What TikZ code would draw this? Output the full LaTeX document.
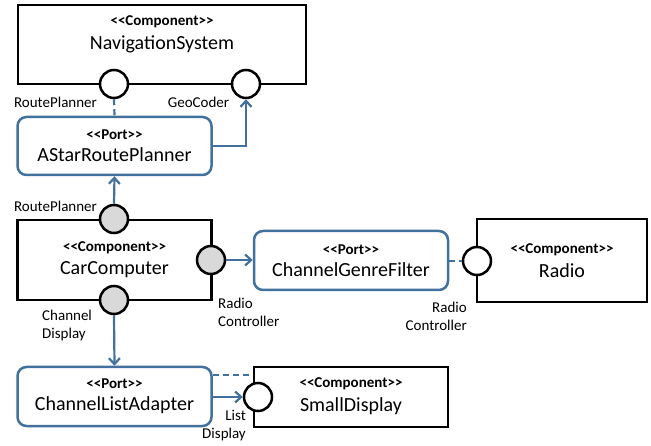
\documentclass[tikz,border=0pt]{standalone}
\usepackage{fontspec}
\setmainfont{Carlito}
\usetikzlibrary{arrows.meta}
\definecolor{portblue}{RGB}{65,113,156}
\definecolor{ifgray}{RGB}{217,217,217}
\newcommand{\stereo}[1]{{\fontsize{15}{18}\selectfont\bfseries <{}<#1>{}>}}
\newcommand{\bigname}[1]{{\fontsize{20}{22}\selectfont #1}}
\tikzset{
  comp/.style={draw=black, line width=2.5pt, fill=white, inner sep=0pt},
  portbox/.style={draw=portblue, line width=2.5pt, rounded corners=9pt, fill=white, inner sep=0pt},
  boxtext/.style={align=center, inner sep=0pt},
  iface/.style={circle, draw=black, line width=2.5pt, fill=white, minimum size=28pt, inner sep=0pt},
  reqface/.style={iface, fill=ifgray},
  lbl/.style={font=\fontsize{15}{18}\selectfont, inner sep=0pt},
  conn/.style={draw=portblue, line width=2.2pt, -{Straight Barb[length=6pt,width=11pt,line width=2.2pt]}},
  dconn/.style={draw=portblue, line width=2.2pt, dash pattern=on 6pt off 4pt},
}
\begin{document}
\begin{tikzpicture}[x=1pt,y=-1pt]
\useasboundingbox (0,0) rectangle (651,446);

% NavigationSystem
\node[comp, minimum width=288pt, minimum height=79pt] (nav) at (162,44.5) {};
\node[boxtext] (navt) at (162,34) {\stereo{Component}\\[7pt]\bigname{NavigationSystem}};
\node[iface] (navrp) at (114,84) {};
\node[iface] (navgc) at (246,84) {};
\node[lbl] (lrp1) at (55.5,102) {RoutePlanner};
\node[lbl] (lgc) at (198.5,102) {GeoCoder};

% AStarRoutePlanner
\node[portbox, minimum width=194pt, minimum height=58pt] (astar) at (114.5,146) {};
\node[boxtext] (astart) at (114.5,146) {\stereo{Port}\\[7pt]\bigname{AStarRoutePlanner}};

% CarComputer
\node[comp, minimum width=194pt, minimum height=80pt] (car) at (114.5,260) {};
\node[boxtext] (cart) at (114.5,260) {\stereo{Component}\\[7pt]\bigname{CarComputer}};
\node[reqface] (carrp) at (114,219) {};
\node[reqface] (carrc) at (211,260) {};
\node[reqface] (carcd) at (114,300) {};
\node[lbl] (lrp2) at (55.5,206) {RoutePlanner};
\node[lbl, anchor=west, align=left] (lcd) at (42,326) {Channel\\Display};
\node[lbl, anchor=west, align=left] (lrc1) at (218,312) {Radio\\Controller};

% ChannelGenreFilter
\node[portbox, minimum width=194pt, minimum height=59pt] (cgf) at (351,260.5) {};
\node[boxtext] (cgft) at (351,260.5) {\stereo{Port}\\[7pt]\bigname{ChannelGenreFilter}};

% Radio
\node[comp, minimum width=170pt, minimum height=83pt] (radio) at (562,260.5) {};
\node[boxtext] (radiot) at (562,260.5) {\stereo{Component}\\[7pt]\bigname{Radio}};
\node[iface] (radiorc) at (477,261) {};
\node[lbl, anchor=east, align=right] (lrc2) at (467,316) {Radio\\Controller};

% ChannelListAdapter
\node[portbox, minimum width=194pt, minimum height=59pt] (cla) at (114.5,396.5) {};
\node[boxtext] (clat) at (114.5,396.5) {\stereo{Port}\\[7pt]\bigname{ChannelListAdapter}};

% SmallDisplay
\node[comp, minimum width=194pt, minimum height=60pt] (sd) at (351,397) {};
\node[boxtext] (sdt) at (351,396) {\stereo{Component}\\[7pt]\bigname{SmallDisplay}};
\node[iface] (sdld) at (258,397) {};
\node[lbl, anchor=east, align=right] (lld) at (246,426) {List\\Display};

% connectors
\draw[dconn] (navrp.south) -- (astar.north);
\draw[conn] (astar.east |- 0,146) -| (navgc.south);
\draw[conn] (carrp.north) -- (astar.south);
\draw[conn] (carrc.east) -- (cgf.west |- carrc.east);
\draw[dconn] (cgf.east |- radiorc.west) -- (radiorc.west);
\draw[conn] (carcd.south) -- (cla.north);
\draw[dconn] (cla.east |- 0,375) -- (sd.west |- 0,375);
\draw[conn] (cla.east |- sdld.west) -- (sdld.west);
\end{tikzpicture}
\end{document}
